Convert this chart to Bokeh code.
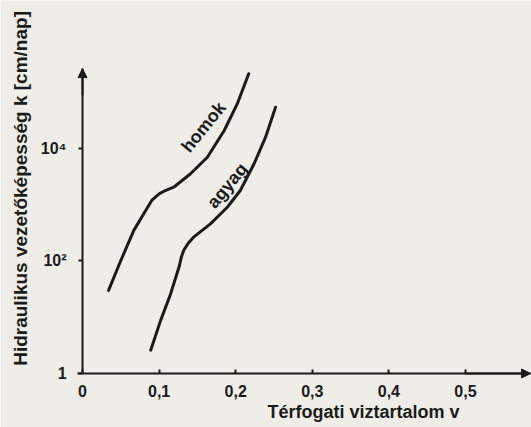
from bokeh.plotting import figure
from bokeh.models import Range1d, FixedTicker, Arrow, NormalHead, Label
from bokeh.embed import file_html
from bokeh.resources import INLINE

# --- data ---
homok_v = [0.034, 0.050, 0.067, 0.085, 0.091, 0.100, 0.108, 0.119, 0.141, 0.163, 0.185, 0.202, 0.217]
homok_k = [30, 102, 350, 900, 1225, 1560, 1790, 2050, 3550, 7000, 20900, 62000, 213000]

agyag_v = [0.089, 0.102, 0.115, 0.126, 0.129, 0.132, 0.138, 0.145, 0.167, 0.189, 0.206, 0.224, 0.239, 0.252]
agyag_k = [2.6, 8.8, 26, 78, 117, 154, 207, 265, 458, 904, 1790, 5350, 15900, 54200]

x_ticks = [0, 0.1, 0.2, 0.3, 0.4, 0.5]
x_tick_labels = ["0", "0,1", "0,2", "0,3", "0,4", "0,5"]
y_ticks = [1, 100, 10000]
y_tick_labels = ["1", "10\u00b2", "10\u2074"]

series_names = ["homok", "agyag"]
x_title = "Térfogati viztartalom v"
y_title = "Hidraulikus vezetőképesség k [cm/nap]"

# --- style ---
BG = "#eeede7"
INK = "#1b1b1b"
FONT = "Liberation Sans"

X_MIN, X_MAX = -0.1071, 0.5862          # whole canvas
Y_MIN, Y_MAX = 10 ** -0.96, 10 ** 6.631
X_TIP = 0.585                            # arrow tip of v axis
Y_TIP = 10 ** 5.42                       # arrow tip of k axis

p = figure(width=531, height=427, output_backend="svg", toolbar_location=None,
           x_range=Range1d(X_MIN, X_MAX), y_range=Range1d(Y_MIN, Y_MAX),
           y_axis_type="log", min_border=0)
p.background_fill_color = BG
p.border_fill_color = BG
p.outline_line_color = None
p.grid.visible = False

# x axis (drawn at k = 1)
xa = p.xaxis[0]
xa.fixed_location = 1
xa.bounds = (-0.007, X_TIP)
xa.ticker = FixedTicker(ticks=x_ticks)
xa.major_label_overrides = dict(zip(x_ticks, x_tick_labels))
xa.axis_line_width = 2
xa.axis_line_color = INK
xa.major_tick_in = 4
xa.major_tick_out = 0
xa.major_tick_line_width = 2
xa.major_tick_line_color = INK
xa.minor_tick_line_color = None
xa.major_label_standoff = 12
xa.major_label_text_font = FONT
xa.major_label_text_font_style = "bold"
xa.major_label_text_font_size = "16px"
xa.major_label_text_color = INK

# y axis (drawn at v = 0)
ya = p.yaxis[0]
ya.fixed_location = 0
ya.bounds = (1, Y_TIP)
ya.ticker = FixedTicker(ticks=y_ticks)
ya.major_label_overrides = dict(zip(y_ticks, y_tick_labels))
ya.axis_line_width = 2
ya.axis_line_color = INK
ya.major_tick_in = 0
ya.major_tick_out = 4
ya.major_tick_line_width = 2
ya.major_tick_line_color = INK
ya.minor_tick_line_color = None
ya.major_label_standoff = 12
ya.major_label_text_baseline = "alphabetic"
ya.major_label_text_font = FONT
ya.major_label_text_font_style = "bold"
ya.major_label_text_font_size = "16px"
ya.major_label_text_color = INK

# arrow heads on axes
p.add_layout(Arrow(end=NormalHead(size=9, fill_color=INK, line_color=INK, line_width=1),
                   x_start=0, y_start=Y_TIP / 3, x_end=0, y_end=Y_TIP,
                   line_color=INK, line_width=2))
p.add_layout(Arrow(end=NormalHead(size=9, fill_color=INK, line_color=INK, line_width=1),
                   x_start=0.5, y_start=1, x_end=X_TIP, y_end=1,
                   line_color=INK, line_width=2))

# curves
p.line(homok_v, homok_k, line_width=3, line_color=INK, line_join="round", line_cap="round")
p.line(agyag_v, agyag_k, line_width=3, line_color=INK, line_join="round", line_cap="round")

# curve labels
p.add_layout(Label(x=0.158, y=10 ** 4.38, text=series_names[0], angle=0.89,
                   text_align="center", text_baseline="middle",
                   text_font=FONT, text_font_style="bold", text_font_size="18px",
                   text_color=INK))
p.add_layout(Label(x=0.189, y=10 ** 3.34, text=series_names[1], angle=0.88,
                   text_align="center", text_baseline="middle",
                   text_font=FONT, text_font_style="bold", text_font_size="18px",
                   text_color=INK))

# axis titles
p.add_layout(Label(x=-0.081, y=10 ** 3.29, text=y_title, angle=1.5708,
                   text_align="center", text_baseline="middle",
                   text_font=FONT, text_font_style="bold", text_font_size="19px",
                   text_color=INK))
p.add_layout(Label(x=0.367, y=10 ** -0.69, text=x_title,
                   text_align="center", text_baseline="middle",
                   text_font=FONT, text_font_style="bold", text_font_size="18px",
                   text_color=INK))

open("out.html", "w").write(file_html(p, INLINE))
